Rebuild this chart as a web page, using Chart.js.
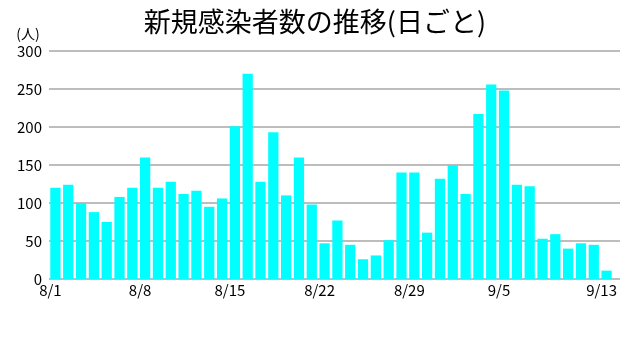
<!DOCTYPE html>
<html>
<head>
<meta charset="utf-8">
<script src="https://cdn.jsdelivr.net/npm/chart.js@4/dist/chart.umd.min.js"></script>
<style>
  html, body { margin: 0; padding: 0; background: #fff; }
  #wrap { width: 633px; height: 345px; }
</style>
</head>
<body>
<div id="wrap"><canvas id="c" width="633" height="345"></canvas></div>
<script>
// Daily dates, 8/1 through 9/13
const dates = [
  '8/1','8/2','8/3','8/4','8/5','8/6','8/7','8/8','8/9','8/10','8/11','8/12','8/13','8/14','8/15','8/16',
  '8/17','8/18','8/19','8/20','8/21','8/22','8/23','8/24','8/25','8/26','8/27','8/28','8/29','8/30','8/31',
  '9/1','9/2','9/3','9/4','9/5','9/6','9/7','9/8','9/9','9/10','9/11','9/12','9/13'
];
// New cases per day
const newCases = [
  120,124,100,88,75,108,120,160,120,128,112,116,95,106,201,270,
  128,193,110,160,98,47,77,45,26,31,51,140,140,61,132,
  150,112,217,256,248,124,122,53,59,40,47,45,11
];
// Dates that get an axis label
const shownDates = ['8/1','8/8','8/15','8/22','8/29','9/5','9/13'];
const yTicks = [0, 50, 100, 150, 200, 250, 300];

const FONT = '"Noto Sans CJK JP", "Noto Sans", sans-serif';
const titleText = '新規感染者数の推移(日ごと)';
const unitText = '(人)';

// Horizontal guide lines drawn a little past the last bar, plus title and unit
const decor = {
  id: 'decor',
  beforeDatasetsDraw(chart) {
    const { ctx, chartArea, scales } = chart;
    ctx.save();
    ctx.strokeStyle = '#bdbdbd';
    ctx.lineWidth = 2;
    yTicks.forEach(v => {
      const y = Math.round(scales.y.getPixelForValue(v));
      ctx.beginPath();
      ctx.moveTo(chartArea.left, y);
      ctx.lineTo(chartArea.right + 7, y);
      ctx.stroke();
    });
    ctx.restore();
  },
  afterDraw(chart) {
    const { ctx } = chart;
    ctx.save();
    ctx.fillStyle = '#000';
    ctx.textAlign = 'center';
    ctx.textBaseline = 'middle';
    ctx.font = '27px ' + FONT;
    ctx.fillText(titleText, 315, 22);
    ctx.font = '14px ' + FONT;
    ctx.fillText(unitText, 28, 34);
    ctx.restore();
  }
};

new Chart(document.getElementById('c'), {
  type: 'bar',
  data: {
    labels: dates,
    datasets: [{
      data: newCases,
      backgroundColor: '#00ffff',
      borderWidth: 0,
      categoryPercentage: 1.0,
      barPercentage: 0.8
    }]
  },
  options: {
    responsive: false,
    animation: false,
    layout: { padding: { left: 0, right: 20, top: 51, bottom: 36 } },
    plugins: { legend: { display: false }, tooltip: { enabled: false }, title: { display: false } },
    scales: {
      x: {
        grid: { display: false, drawTicks: false },
        border: { display: false },
        afterFit(scale) { scale.height = 30; },
        ticks: {
          autoSkip: false,
          maxRotation: 0,
          padding: 2,
          labelOffset: -5,
          color: '#000',
          font: { family: FONT, size: 15 },
          callback(val, i) {
            const d = dates[i];
            return shownDates.includes(d) ? d : '';
          }
        }
      },
      y: {
        min: 0,
        max: 300,
        afterFit(scale) { scale.width = 49; },
        afterBuildTicks(scale) { scale.ticks = yTicks.map(v => ({ value: v })); },
        grid: { display: false, drawTicks: false },
        border: { display: false },
        ticks: {
          padding: 7,
          color: '#000',
          font: { family: FONT, size: 15 }
        }
      }
    }
  },
  plugins: [decor]
});
</script>
</body>
</html>
